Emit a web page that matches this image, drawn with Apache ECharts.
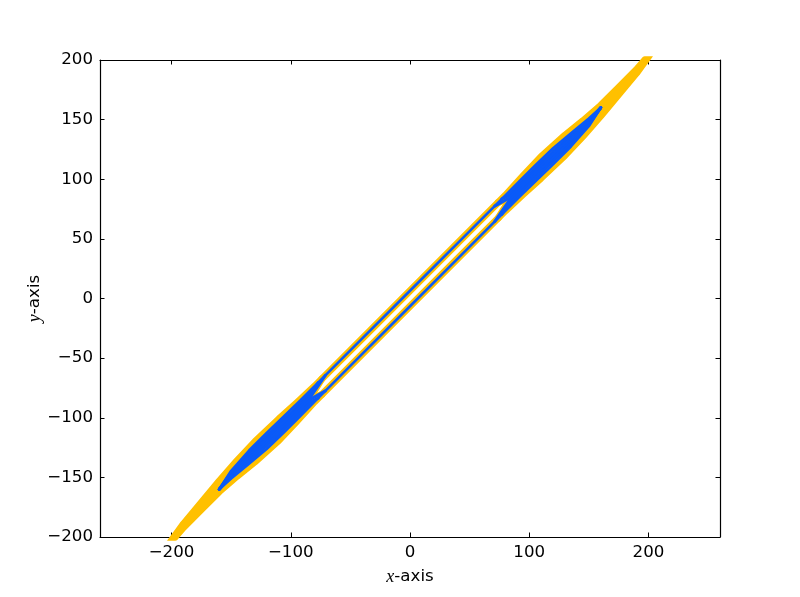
<!DOCTYPE html>
<html><head><meta charset="utf-8">
<script src="https://cdn.jsdelivr.net/npm/echarts@6/dist/echarts.min.js"></script>
<style>html,body{margin:0;padding:0;background:#fff}#c{width:800px;height:597px}</style>
</head><body><div id="c"></div>
<script>
// tick labels
const xTicks = [-200, -100, 0, 100, 200];
const yTicks = [-200, -150, -100, -50, 0, 50, 100, 150, 200];

// yellow (wide) trace strands, [x, y]
const yellowUpper = [[-203,-207],[-190,-189],[-175,-171],[-160,-153],[-145,-136],[-130,-120],[-110,-101],[-95,-87.5],[-80,-73.5],[-40,-33.5],[0,6.5],[40,46.5],[80,86.5],[95,103],[110,119],[130,137],[145,149],[160,162],[175,177],[190,192],[203,207]];
const yellowLower = [[-203,-207],[-190,-192],[-175,-177],[-160,-162],[-145,-149],[-130,-137],[-110,-119],[-95,-103],[-80,-86.5],[-40,-46.5],[0,-6.5],[40,33.5],[80,73.5],[95,87.5],[110,101],[130,120],[145,136],[160,153],[175,171],[190,189],[203,207]];
const yellowLL1 = [[-190,-189.75],[-175,-172.5],[-160,-155.25],[-145,-139.25],[-130,-124.25],[-110,-105.5],[-95,-91.4],[-80,-77],[-74,-67.5]];
const yellowLL2 = [[-190,-190.5],[-175,-174],[-160,-157.5],[-145,-142.5],[-130,-128.5],[-110,-110],[-95,-95.25],[-84,-84]];
const yellowLL3 = [[-190,-191.25],[-175,-175.5],[-160,-159.75],[-145,-145.75],[-130,-132.75],[-110,-114.5],[-95,-99.1],[-80,-83],[-74,-80.5]];
const yellowUR1 = [[74,80.5],[80,83],[95,99.1],[110,114.5],[130,132.75],[145,145.75],[160,159.75],[175,175.5],[190,191.25]];
const yellowUR2 = [[84,84],[95,95.25],[110,110],[130,128.5],[145,142.5],[160,157.5],[175,174],[190,190.5]];
const yellowUR3 = [[74,67.5],[80,77],[95,91.4],[110,105.5],[130,124.25],[145,139.25],[160,155.25],[175,172.5],[190,189.75]];

// blue (thin) trace strands, [x, y]
const blueUpper = [[-160,-160],[-150,-144.5],[-135,-127.5],[-120,-112.5],[-105,-98],[-92,-85.5],[-80,-73.5],[-40,-33.5],[0,6.5],[40,46.5],[80,86.5],[92,98.5],[105,111.5],[120,126],[135,138.5],[150,151],[160,160]];
const blueLower = [[-160,-160],[-150,-151],[-135,-138.5],[-120,-126],[-105,-111.5],[-92,-98.5],[-80,-86.5],[-40,-46.5],[0,-6.5],[40,33.5],[80,73.5],[92,85.5],[105,98],[120,112.5],[135,127.5],[150,144.5],[160,160]];
const blueLL1 = [[-160,-160],[-150,-145.8],[-135,-129.7],[-120,-115.2],[-105,-100.7],[-92,-88.1],[-82,-78],[-77,-70.5]];
const blueLL2 = [[-160,-160],[-150,-147.1],[-135,-131.9],[-120,-117.9],[-105,-103.4],[-92,-90.7],[-83,-81.8],[-71,-64.5]];
const blueLL3 = [[-160,-160],[-150,-148.4],[-135,-134.1],[-120,-120.6],[-105,-106.1],[-92,-93.3],[-83,-84.2],[-71,-77.5]];
const blueLL4 = [[-160,-160],[-150,-149.7],[-135,-136.3],[-120,-123.3],[-105,-108.8],[-92,-95.9],[-82,-86],[-77,-83.5]];
const blueUR1 = [[77,83.5],[82,86],[92,95.9],[105,108.8],[120,123.3],[135,136.3],[150,149.7],[160,160]];
const blueUR2 = [[71,77.5],[83,84.2],[92,93.3],[105,106.1],[120,120.6],[135,134.1],[150,148.4],[160,160]];
const blueUR3 = [[71,64.5],[83,81.8],[92,90.7],[105,103.4],[120,117.9],[135,131.9],[150,147.1],[160,160]];
const blueUR4 = [[77,70.5],[82,78],[92,88.1],[105,100.7],[120,115.2],[135,129.7],[150,145.8],[160,160]];

const YELLOW = '#ffc000', BLUE = '#0a5af8';
const yellowOuter = [yellowUpper, yellowLower];
const yellowInner = [yellowLL1, yellowLL2, yellowLL3, yellowUR1, yellowUR2, yellowUR3];
const blueOuter = [blueUpper, blueLower];
const blueInner = [blueLL1, blueLL2, blueLL3, blueLL4, blueUR1, blueUR2, blueUR3, blueUR4];

function mk(data, color, width, z) {
  return {type:'line', data, showSymbol:false, symbol:'none', clip:true, z,
    lineStyle:{color, width, cap:'round', join:'round'}, emphasis:{disabled:true}};
}
const series = [];
yellowOuter.forEach(d => series.push(mk(d, YELLOW, 7, 2)));
yellowInner.forEach(d => series.push(mk(d, YELLOW, 7, 2)));
blueInner.forEach(d => series.push(mk(d, BLUE, 3, 3)));
blueOuter.forEach(d => series.push(mk(d, BLUE, 2.6, 3)));

const minus = v => String(v).replace('-', '\u2212');
const FONT = 'DejaVu Sans';
const lab = {color:'#000', fontFamily:FONT, fontSize:16.67};
const line = {show:true, onZero:false, lineStyle:{color:'#000', width:1.2}};
const tick = {show:true, inside:true, length:4.5, lineStyle:{color:'#000', width:1}};
const mathRich = {m:{fontFamily:'Liberation Serif', fontStyle:'italic', fontSize:18, color:'#000'}};

const chart = echarts.init(document.getElementById('c'), null, {renderer:'canvas'});
chart.setOption({
  animation:false,
  backgroundColor:'#fff',
  grid:{left:100, right:80, top:60, bottom:60, containLabel:false},
  xAxis:[
    {type:'value', position:'bottom', min:-260, max:260,
     axisLine:line, splitLine:{show:false},
     axisTick:Object.assign({customValues:xTicks}, tick),
     axisLabel:Object.assign({customValues:xTicks, margin:7, formatter:minus}, lab),
     name:'{m|x}-axis', nameLocation:'middle', nameGap:31, nameMoveOverlap:false,
     nameTextStyle:Object.assign({rich:mathRich}, lab)},
    {type:'value', position:'top', min:-260, max:260,
     axisLine:line, splitLine:{show:false},
     axisTick:Object.assign({customValues:xTicks}, tick),
     axisLabel:{show:false}}
  ],
  yAxis:[
    {type:'value', position:'left', min:-200, max:200, interval:50,
     axisLine:line, splitLine:{show:false},
     axisTick:Object.assign({customValues:yTicks}, tick),
     axisLabel:Object.assign({customValues:yTicks, margin:7, formatter:minus}, lab),
     name:'{m|y}-axis', nameLocation:'middle', nameGap:56, nameRotate:90, nameMoveOverlap:false,
     nameTextStyle:Object.assign({rich:mathRich}, lab)},
    {type:'value', position:'right', min:-200, max:200, interval:50,
     axisLine:line, splitLine:{show:false},
     axisTick:Object.assign({customValues:yTicks}, tick), axisLabel:{show:false}}
  ],
  series
});
</script></body></html>
